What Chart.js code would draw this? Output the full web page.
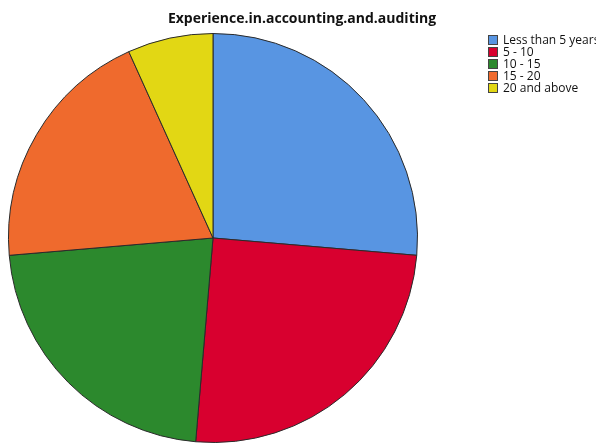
<!DOCTYPE html>
<html>
<head>
<meta charset="utf-8">
<script src="https://cdn.jsdelivr.net/npm/chart.js@4.4.1/dist/chart.umd.min.js"></script>
<style>
  body { margin: 0; background: #fff; }
  #wrap { position: relative; width: 596px; height: 444px; overflow: hidden; }
  #title {
    position: absolute; left: 0; width: 604px; top: 8px; text-align: center;
    font: bold 14px "Open Sans", sans-serif; color: #111;
  }
  #legend {
    position: absolute; left: 488px; top: 34px;
    font: 12px "Open Sans", sans-serif; color: #111; line-height: 12px;
  }
  .item { display: flex; align-items: center; height: 12px; white-space: nowrap; }
  .box { width: 10px; height: 10px; border: 1px solid #444; margin-right: 5px; box-sizing: border-box; }
</style>
</head>
<body>
<div id="wrap">
  <canvas id="pieChart" width="596" height="444"></canvas>
  <div id="title"></div>
  <div id="legend"></div>
</div>
<script>
// Chart text and data
const chartTitle = 'Experience.in.accounting.and.auditing';
const categories = ['Less than 5 years', '5 - 10', '10 - 15', '15 - 20', '20 and above'];
const counts = [39, 37, 33, 29, 10];
const sliceColors = ['#5895e2', '#d8002f', '#2c892d', '#ef6a2d', '#e2d714'];

document.getElementById('title').textContent = chartTitle;

// Legend built from the same arrays
const legend = document.getElementById('legend');
categories.forEach((name, i) => {
    const row = document.createElement('div');
    row.className = 'item';
    const box = document.createElement('span');
    box.className = 'box';
    box.style.background = sliceColors[i];
    const label = document.createElement('span');
    label.textContent = name;
    row.appendChild(box);
    row.appendChild(label);
    legend.appendChild(row);
});

const ctx = document.getElementById('pieChart').getContext('2d');
const pieChart = new Chart(ctx, {
    type: 'pie',
    data: {
        labels: categories,
        datasets: [{
            data: counts,
            backgroundColor: sliceColors,
            borderColor: '#2a2a2a',
            borderWidth: 1
        }]
    },
    options: {
        responsive: false,
        animation: false,
        layout: { padding: { left: 8, right: 178, top: 33, bottom: 1 } },
        plugins: {
            legend: { display: false },
            title: { display: false },
            tooltip: { enabled: false }
        }
    }
});
</script>
</body>
</html>
